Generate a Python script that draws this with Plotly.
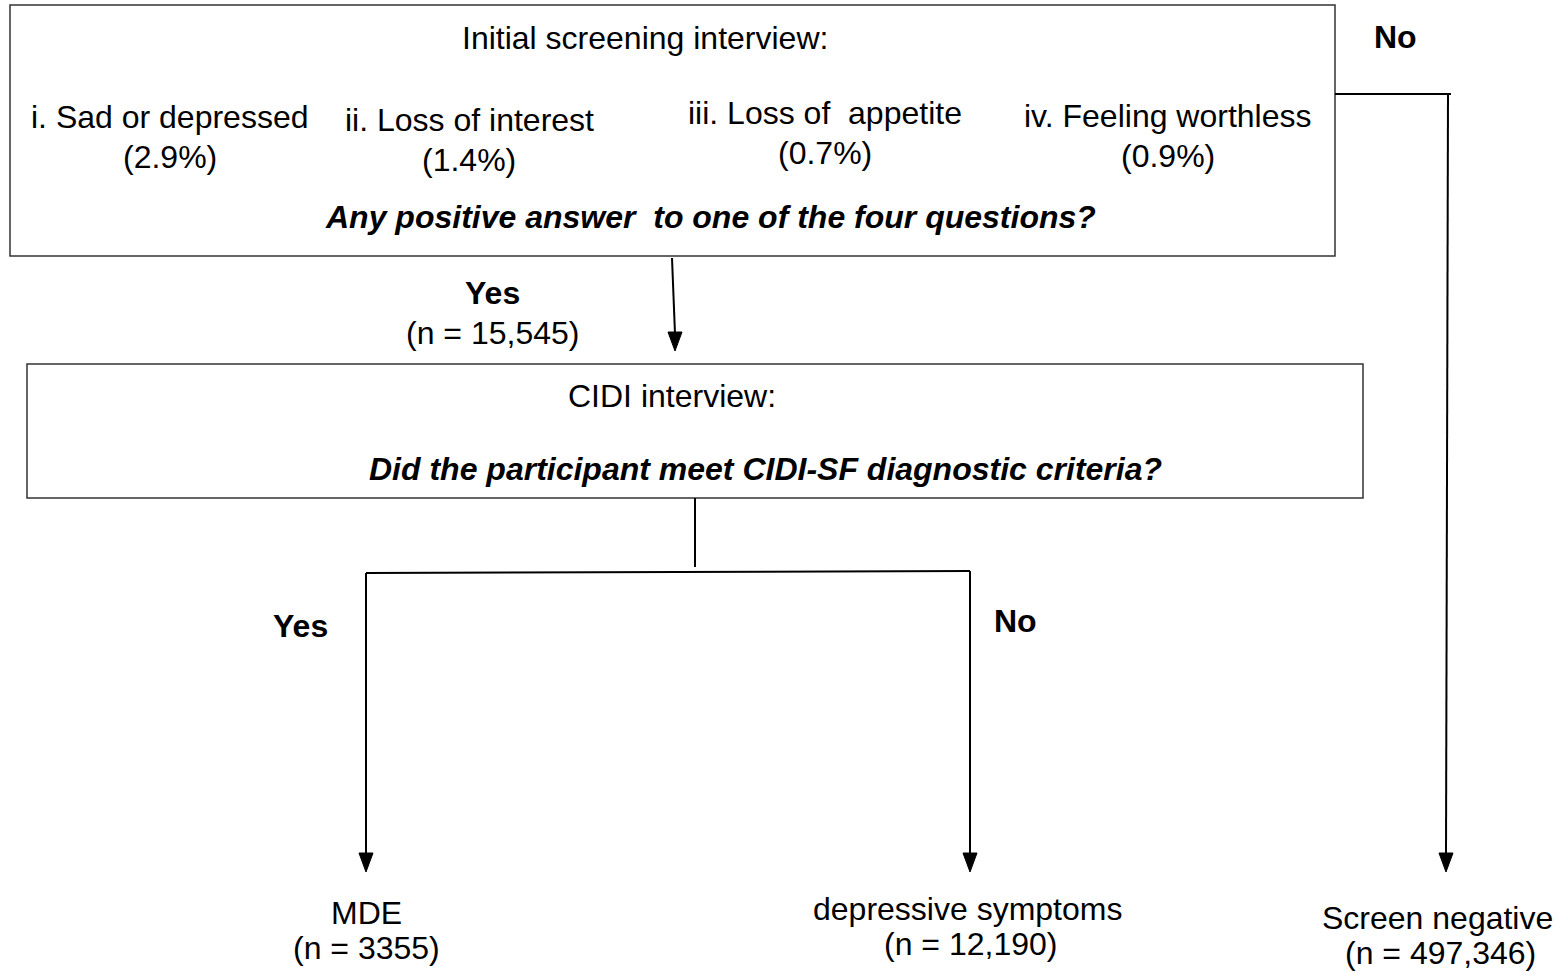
import plotly.graph_objects as go

W, H = 1563, 972
FONT = "Liberation Sans, Arial, sans-serif"
FS = 32

# ---- text content ----
box1_title = "Initial screening interview:"
questions = ["i. Sad or depressed", "ii. Loss of interest", "iii. Loss of  appetite", "iv. Feeling worthless"]
question_pct = ["(2.9%)", "(1.4%)", "(0.7%)", "(0.9%)"]
box1_question = "Any positive answer  to one of the four questions?"
yes1_label, yes1_n = "Yes", "(n = 15,545)"
box2_title = "CIDI interview:"
box2_question = "Did the participant meet CIDI-SF diagnostic criteria?"
outcomes = ["MDE", "depressive symptoms", "Screen negative"]
outcome_n = ["(n = 3355)", "(n = 12,190)", "(n = 497,346)"]
branch_labels = ["Yes", "No", "No"]

# ---- layout positions (pixels) ----
q_x = [170, 469, 825, 1168]
q_y = [117, 120, 113, 116]
out_x = [366, 967, 1437]
out_y = [913, 909, 918]
branch_pos = [(300, 626), (1015, 621), (1395, 37)]

fig = go.Figure()
fig.add_trace(go.Scatter(x=[0, W], y=[0, H], mode="markers", marker=dict(opacity=0), hoverinfo="skip", showlegend=False))

shapes = []
LINE = dict(color="black", width=2)
BOX = dict(color="#333333", width=1.5)

def rect(x0, y0, x1, y1):
    shapes.append(dict(type="rect", x0=x0, y0=y0, x1=x1, y1=y1, line=BOX, fillcolor="rgba(0,0,0,0)", layer="below"))

def seg(x0, y0, x1, y1):
    shapes.append(dict(type="line", x0=x0, y0=y0, x1=x1, y1=y1, line=LINE))

def head(x, y):
    # downward filled triangle with tip at (x, y)
    shapes.append(dict(type="path", path=f"M {x-7},{y-19} L {x+7},{y-19} L {x},{y} Z",
                       fillcolor="black", line=dict(color="black", width=1)))

rect(10, 5, 1335, 256)
rect(27, 364, 1363, 498)

# arrow box1 -> box2
seg(672, 258, 675, 334)
head(675, 351)
# box2 -> split
seg(695, 498, 695, 567)
seg(366, 573, 970, 571)
seg(366, 573, 366, 855)
head(366, 872)
seg(970, 571, 970, 855)
head(970, 872)
# No branch from box1
seg(1335, 94, 1451, 94)
seg(1448, 94, 1446, 855)
head(1446, 872)

ann = []
def txt(x, y, s, bold=False, italic=False, size=FS):
    if bold:
        s = f"<b>{s}</b>"
    if italic:
        s = f"<i>{s}</i>"
    ann.append(dict(x=x, y=y, text=s, showarrow=False, xanchor="center", yanchor="middle",
                    font=dict(family=FONT, size=size, color="black")))

txt(645, 38, box1_title)
for i in range(4):
    txt(q_x[i], q_y[i], questions[i])
    txt(q_x[i], q_y[i] + 40, question_pct[i])
txt(710, 217, box1_question, bold=True, italic=True)
txt(492, 293, yes1_label, bold=True)
txt(492, 333, yes1_n)
txt(672, 396, box2_title)
txt(765, 469, box2_question, bold=True, italic=True)
for i in range(3):
    txt(out_x[i], out_y[i], outcomes[i])
    txt(out_x[i] + (0 if i == 0 else 3), out_y[i] + 35, outcome_n[i])
for (bx, by), lab in zip(branch_pos, branch_labels):
    txt(bx, by, lab, bold=True)

fig.update_layout(
    width=W, height=H, margin=dict(l=0, r=0, t=0, b=0),
    paper_bgcolor="white", plot_bgcolor="white",
    xaxis=dict(range=[0, W], visible=False, fixedrange=True),
    yaxis=dict(range=[H, 0], visible=False, fixedrange=True),
    shapes=shapes, annotations=ann, showlegend=False,
)
fig.write_html("out.html", config={"displayModeBar": False},
               post_script="document.body.style.margin='0';document.body.style.overflow='hidden';")
